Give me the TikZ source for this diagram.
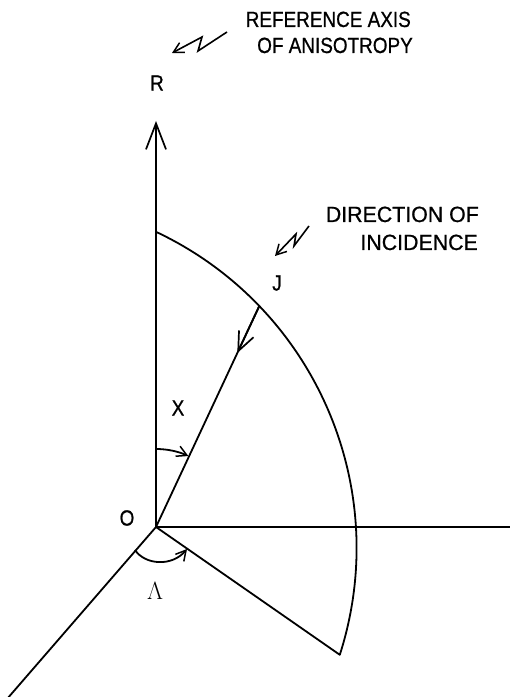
\documentclass[tikz,border=0pt]{standalone}
\usepackage{fontspec}
\setmainfont{Liberation Sans}
\newfontfamily\capA[FakeStretch=0.86,FakeBold=0.8]{Liberation Sans}
\newfontfamily\capB[FakeStretch=0.97,FakeBold=0.8]{Liberation Sans}
\usetikzlibrary{arrows.meta,calc}
\begin{document}
\begin{tikzpicture}[x=1pt,y=1pt,
  ln/.style={line width=1.8pt,line join=round},
  bigtip/.style={-{Straight Barb[length=26pt,width=20pt,line width=1.7pt]}},
  smalltip/.style={-{Straight Barb[length=10pt,width=11pt,line width=1.5pt]}},
  midtip/.style={-{Straight Barb[length=19pt,width=16pt,line width=1.7pt]}},
  lbl/.style={inner sep=0pt,font=\capA\fontsize{22}{22}\selectfont},
  captxtA/.style={inner sep=0pt,anchor=base east,font=\capA\fontsize{22}{22}\selectfont},
  captxtB/.style={inner sep=0pt,anchor=base east,font=\capB\fontsize{22}{22}\selectfont}]
\useasboundingbox (0,0) rectangle (510,697);
% points
\coordinate (O) at (156,170);
\coordinate (Rtip) at (156,576);
\coordinate (H) at (510,170);
\coordinate (LL) at (7,-2);
\coordinate (E) at (339.8,42.2);
\coordinate (Jp) at (259.3,391);
% axes
\draw[ln,bigtip] (O) -- (Rtip);
\draw[ln] (O) -- (H);
\draw[ln] (O) -- (LL);
% sector
\draw[ln] (O) -- (E) arc[start angle=-17.8,end angle=64.8,radius=349.5];
% incidence line
\draw[ln] (Jp) -- (O);
\draw[ln,midtip] (Jp) -- ($(Jp)!0.213!(O)$);
% angle X
\coordinate (Xa) at ($(O)+(90:78)$);
\draw[ln,smalltip] (Xa) arc[start angle=90,end angle=65.5,radius=78];
% angle Lambda
\coordinate (La) at (135,147);
\coordinate (Lb) at (187,148);
\draw[ln,smalltip] (La) .. controls (145,132) and (172,130) .. (Lb);
% labels
\node[lbl] (R) at (157,614) {R};
\node[lbl] (J) at (277,414) {J};
\node[lbl] (X) at (178,289) {X};
\node[lbl] (Ol) at (127,179) {O};
\node[inner sep=0pt,font=\fontsize{27}{27}\selectfont] (L) at (155,106) {$\Lambda$};
% captions
\node[captxtA] (c1) at (411,670) {REFERENCE AXIS};
\node[captxtA] (c2) at (413,644) {OF ANISOTROPY};
\node[captxtB] (c3) at (479,475) {DIRECTION OF};
\node[captxtB] (c4) at (478,447) {INCIDENCE};
% squiggle arrows
\coordinate (s1a) at (227,665);
\coordinate (s1b) at (198,646);
\coordinate (s1c) at (202,660);
\coordinate (s1d) at (172,644);
\draw[line width=1.6pt,line join=miter,smalltip] (s1a) -- (s1b) -- (s1c) -- (s1d);
\coordinate (s2a) at (309,471);
\coordinate (s2b) at (294,451);
\coordinate (s2c) at (296,463);
\coordinate (s2d) at (275,441);
\draw[line width=1.6pt,line join=miter,smalltip] (s2a) -- (s2b) -- (s2c) -- (s2d);
\end{tikzpicture}
\end{document}
